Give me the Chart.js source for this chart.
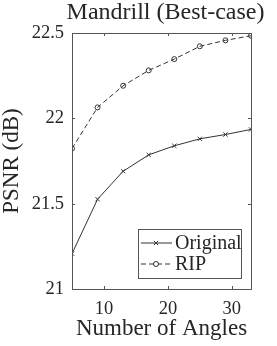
<!DOCTYPE html>
<html>
<head>
<meta charset="utf-8">
<script src="https://cdn.jsdelivr.net/npm/chart.js@4/dist/chart.umd.min.js"></script>
<style>
  html, body { margin: 0; padding: 0; background: #fff; }
  canvas { display: block; }
</style>
</head>
<body>
<canvas id="psnrChart" width="277" height="346"></canvas>
<script>
// data
const angles = [5, 9, 13, 17, 21, 25, 29, 33];
const originalPsnr = [21.207, 21.526, 21.690, 21.786, 21.839, 21.880, 21.905, 21.935];
const ripPsnr = [21.823, 22.064, 22.191, 22.281, 22.347, 22.422, 22.457, 22.484];
const xTicks = [10, 20, 30];
const yTicks = [21, 21.5, 22, 22.5];
const yTickLabels = ['21', '21.5', '22', '22.5'];
const chartTitle = 'Mandrill (Best-case)';

const ink = '#262626';
const serif = "'Liberation Serif', serif";

// title is wider than the axes, so the built-in one gets squashed - draw it here
const wideTitle = {
  id: 'wideTitle',
  afterDraw(chart) {
    const { ctx, chartArea: a } = chart;
    ctx.save();
    ctx.fillStyle = ink;
    ctx.font = '24px ' + serif;
    ctx.textAlign = 'center';
    ctx.textBaseline = 'middle';
    ctx.fillText(chartTitle, (a.left + a.right) / 2 + 4, 13);
    ctx.restore();
  }
};

// box round the axes + inward tick marks (matlab style)
const axesBox = {
  id: 'axesBox',
  afterDatasetsDraw(chart) {
    const { ctx, chartArea: a, scales } = chart;
    ctx.save();
    ctx.strokeStyle = '#555';
    ctx.lineWidth = 1;
    ctx.beginPath();
    xTicks.forEach(v => {
      const x = Math.round(scales.x.getPixelForValue(v)) + 0.5;
      ctx.moveTo(x, a.bottom); ctx.lineTo(x, a.bottom - 3);
      ctx.moveTo(x, a.top); ctx.lineTo(x, a.top + 3);
    });
    yTicks.forEach(v => {
      const y = Math.round(scales.y.getPixelForValue(v)) + 0.5;
      ctx.moveTo(a.left, y); ctx.lineTo(a.left + 3, y);
      ctx.moveTo(a.right, y); ctx.lineTo(a.right - 3, y);
    });
    ctx.stroke();
    ctx.strokeRect(Math.round(a.left) + 0.5, Math.round(a.top) + 0.5,
      Math.round(a.right - a.left), Math.round(a.bottom - a.top));
    ctx.restore();
  }
};

// legend sits inside the axes, bottom right
const innerLegend = {
  id: 'innerLegend',
  afterDraw(chart) {
    const { ctx, chartArea: a } = chart;
    const w = 103, h = 49;
    const x0 = a.right - 10 - w, y0 = a.bottom - 11 - h;
    ctx.save();
    ctx.fillStyle = '#fff';
    ctx.fillRect(x0, y0, w, h);
    ctx.strokeStyle = '#555';
    ctx.lineWidth = 1;
    ctx.strokeRect(Math.round(x0) + 0.5, Math.round(y0) + 0.5, w, h);
    chart.data.datasets.forEach((ds, i) => {
      const y = y0 + 14 + i * 21;
      ctx.strokeStyle = ds.borderColor;
      ctx.lineWidth = ds.borderWidth;
      ctx.setLineDash(ds.borderDash || []);
      ctx.beginPath();
      ctx.moveTo(x0 + 3, y); ctx.lineTo(x0 + 34, y);
      ctx.stroke();
      ctx.setLineDash([]);
      ctx.fillStyle = '#fff';
      Chart.helpers.drawPoint(ctx, {
        pointStyle: ds.pointStyle, radius: ds.pointRadius, rotation: 0,
        borderWidth: 1
      }, x0 + 18, y);
      ctx.fillStyle = ink;
      ctx.font = '20px ' + serif;
      ctx.textBaseline = 'middle';
      ctx.fillText(ds.label, x0 + 37, y + 1);
    });
    ctx.restore();
  }
};

new Chart(document.getElementById('psnrChart'), {
  type: 'line',
  data: {
    labels: angles,
    datasets: [{
      label: 'Original',
      data: angles.map((a, i) => ({ x: a, y: originalPsnr[i] })),
      borderColor: '#333',
      borderWidth: 1,
      pointStyle: 'crossRot',
      pointRadius: 3,
      pointBorderColor: '#333',
      pointBorderWidth: 1,
      tension: 0
    }, {
      label: 'RIP',
      data: angles.map((a, i) => ({ x: a, y: ripPsnr[i] })),
      borderColor: '#333',
      borderWidth: 1,
      borderDash: [5, 3],
      pointStyle: 'circle',
      pointRadius: 2.5,
      pointBackgroundColor: 'rgba(0,0,0,0)',
      pointBorderColor: '#333',
      pointBorderWidth: 1,
      tension: 0
    }]
  },
  options: {
    responsive: false,
    animation: false,
    layout: { padding: { top: 33, right: 26, bottom: 0, left: 0 } },
    plugins: {
      legend: { display: false },
      tooltip: { enabled: false },
      title: { display: false }
    },
    scales: {
      x: {
        type: 'linear',
        min: 5,
        max: 33,
        afterBuildTicks: s => { s.ticks = xTicks.map(v => ({ value: v })); },
        afterFit: s => { s.height = 57; },
        grid: { display: false, drawTicks: false },
        border: { display: false },
        ticks: {
          color: ink,
          padding: 9,
          maxRotation: 0,
          font: { family: serif, size: 18.5 }
        },
        title: {
          display: true,
          text: 'Number of Angles',
          color: ink,
          font: { family: serif, size: 23, lineHeight: 1 },
          padding: { top: 0, bottom: 6 }
        }
      },
      y: {
        min: 21,
        max: 22.5,
        afterBuildTicks: s => { s.ticks = yTicks.map(v => ({ value: v })); },
        afterFit: s => { s.width = 72; },
        grid: { display: false, drawTicks: false },
        border: { display: false },
        ticks: {
          color: ink,
          padding: 8,
          font: { family: serif, size: 18.5 },
          callback: v => yTickLabels[yTicks.indexOf(v)]
        },
        title: {
          display: true,
          text: 'PSNR (dB)',
          color: ink,
          font: { family: serif, size: 23, lineHeight: 1 },
          padding: { top: 0, bottom: 0 }
        }
      }
    }
  },
  plugins: [wideTitle, axesBox, innerLegend]
});
</script>
</body>
</html>
